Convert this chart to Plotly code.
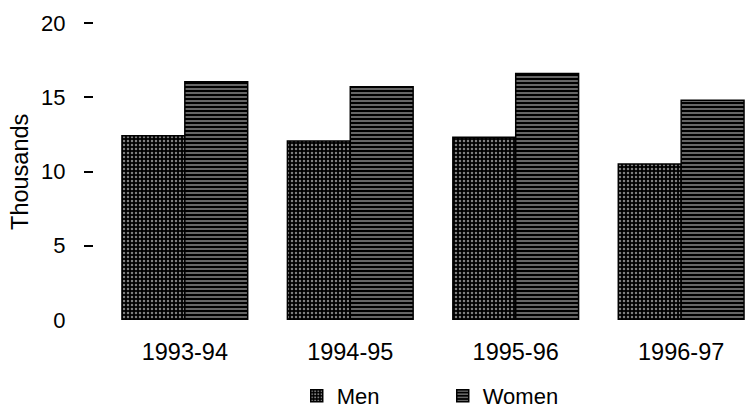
import plotly.graph_objects as go

years = ["1993-94", "1994-95", "1995-96", "1996-97"]
men = [12.4, 12.05, 12.3, 10.5]
women = [16.05, 15.7, 16.6, 14.8]
series_names = ["Men", "Women"]
y_tick_vals = [5, 10, 15, 20]
y_zero_tick = [0]
y_title = "Thousands"

FONT = "Liberation Sans, Arial, Helvetica, sans-serif"
FS = 22

fig = go.Figure()
fig.add_bar(
    x=years, y=men, name=series_names[0],
    marker=dict(color="black", line=dict(color="black", width=1.5),
                pattern=dict(shape=".", fgcolor="white", bgcolor="black", size=4, solidity=0.3)),
)
fig.add_bar(
    x=years, y=women, name=series_names[1],
    marker=dict(color="black", line=dict(color="black", width=1.5),
                pattern=dict(shape="-", fgcolor="white", bgcolor="black", size=4, solidity=0.4)),
)
# invisible carrier so the secondary axis (the "0" label without a tick dash) is drawn
fig.add_scatter(x=[years[0]], y=y_zero_tick, yaxis="y2", mode="markers",
                marker=dict(opacity=0), showlegend=False, hoverinfo="skip")

fig.update_layout(
    width=748, height=411,
    margin=dict(l=94, r=0, t=23, b=91, autoexpand=False),
    paper_bgcolor="white", plot_bgcolor="white",
    font=dict(family=FONT, size=FS, color="black"),
    barmode="group", bargap=0.24, bargroupgap=0,
    xaxis=dict(range=[-0.549, 3.404], showgrid=False, zeroline=False, showline=False,
               ticks="", tickfont=dict(size=23.5), ticklabelstandoff=15, automargin=False),
    yaxis=dict(range=[0, 20], tickvals=y_tick_vals, showgrid=False, zeroline=False,
               showline=False, ticks="outside", ticklen=9, tickwidth=2, tickcolor="black",
               ticklabelstandoff=14, tickfont=dict(size=FS), automargin=False),
    yaxis2=dict(range=[0, 20], overlaying="y", side="left", tickvals=y_zero_tick,
                showgrid=False, zeroline=False, showline=False, ticks="outside", ticklen=9,
                tickwidth=2, tickcolor="rgba(0,0,0,0)", ticklabelstandoff=14,
                tickfont=dict(size=FS), automargin=False),
    showlegend=True,
    legend=dict(orientation="h", x=0.31, xanchor="left", y=0.0365, yref="container",
                yanchor="middle", entrywidth=101, entrywidthmode="pixels",
                font=dict(size=FS), bgcolor="rgba(0,0,0,0)", traceorder="normal"),
    annotations=[dict(text=y_title, textangle=-90, xref="paper", yref="paper",
                      x=-0.114, y=0.5, xanchor="center", yanchor="middle",
                      showarrow=False, font=dict(size=23.5))],
)

fig.write_html("out.html", config={"displayModeBar": False},
               post_script="document.body.style.margin='0';")
